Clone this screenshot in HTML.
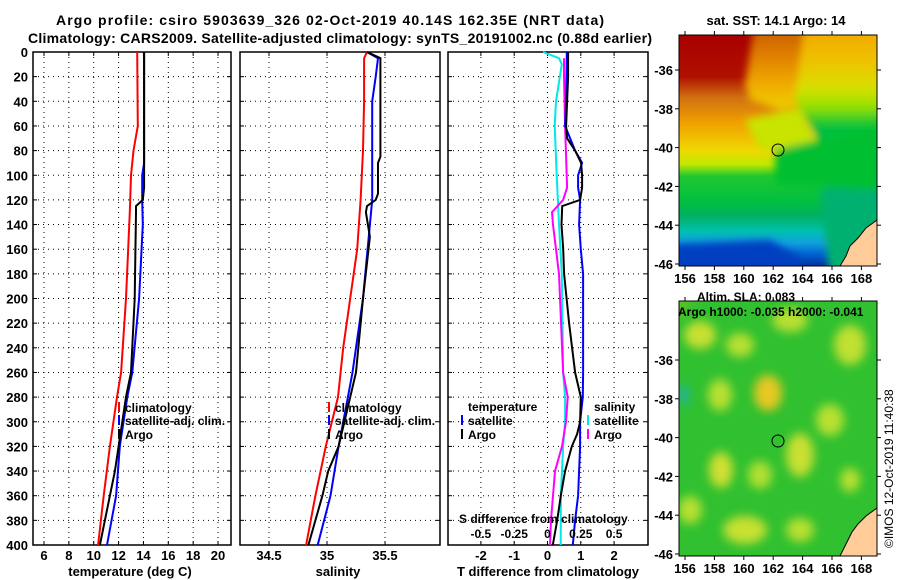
<!DOCTYPE html>
<html><head><meta charset="utf-8"><style>
html,body{margin:0;padding:0;background:#fff;}
svg{display:block;font-family:"Liberation Sans",sans-serif;font-weight:bold;}
</style></head><body>
<svg id="c" width="900" height="580" xmlns="http://www.w3.org/2000/svg">
<defs>
<linearGradient id="sstg" x1="0" y1="0" x2="0" y2="1">
<stop offset="0" stop-color="#a80000"/><stop offset="0.18" stop-color="#b01000"/>
<stop offset="0.27" stop-color="#d07010"/><stop offset="0.38" stop-color="#f0a000"/>
<stop offset="0.5" stop-color="#f0d800"/><stop offset="0.56" stop-color="#c0e800"/>
<stop offset="0.61" stop-color="#20c830"/><stop offset="0.72" stop-color="#00c040"/>
<stop offset="0.78" stop-color="#00b060"/><stop offset="0.85" stop-color="#00c0b0"/>
<stop offset="0.9" stop-color="#10a0e0"/><stop offset="0.95" stop-color="#0060d0"/>
<stop offset="1" stop-color="#0030a0"/>
</linearGradient>
<linearGradient id="sstr" x1="0" y1="0" x2="0" y2="1">
<stop offset="0" stop-color="#f0a000"/><stop offset="0.2" stop-color="#f0c000"/>
<stop offset="0.35" stop-color="#d8e000"/><stop offset="0.45" stop-color="#90e000"/>
<stop offset="0.55" stop-color="#00c040"/><stop offset="1" stop-color="#00b060"/>
</linearGradient>
<linearGradient id="sstm" x1="0" y1="0" x2="0" y2="1">
<stop offset="0" stop-color="#c05000"/><stop offset="0.4" stop-color="#e08000"/>
<stop offset="0.75" stop-color="#f0b000"/><stop offset="1" stop-color="#f0d000"/>
</linearGradient>
<radialGradient id="corner" cx="0" cy="0" r="1"><stop offset="0" stop-color="#f07000"/><stop offset="0.5" stop-color="#e0c000"/><stop offset="1" stop-color="#30c030" stop-opacity="0"/></radialGradient>
<filter id="bl" x="-0.5" y="-0.5" width="2" height="2"><feGaussianBlur stdDeviation="5"/></filter>
<filter id="bl2" x="-0.2" y="-0.2" width="1.4" height="1.4"><feGaussianBlur stdDeviation="4"/></filter>
<clipPath id="cm1"><rect x="679" y="35" width="198" height="231"/></clipPath>
<clipPath id="cm2"><rect x="679" y="301" width="198" height="255"/></clipPath>
</defs>
<text x="330" y="25" text-anchor="middle" font-size="14" textLength="548">Argo profile: csiro 5903639_326 02-Oct-2019 40.14S 162.35E (NRT data)</text>
<text x="340" y="43" text-anchor="middle" font-size="14" textLength="624">Climatology: CARS2009. Satellite-adjusted climatology: synTS_20191002.nc (0.88d earlier)</text>

<g id="p1"></g>
<g id="p2"></g>
<g id="p3"></g>

<g>
<text x="776" y="25" text-anchor="middle" font-size="13">sat. SST: 14.1 Argo: 14</text>
<g clip-path="url(#cm1)">
<rect x="679" y="35" width="198" height="231" fill="url(#sstg)"/>
<g filter="url(#bl2)">
<path d="M755,20 L810,20 L805,105 L780,110 L750,100 L745,85 Z" fill="url(#sstm)"/>
<path d="M805,20 L900,20 L900,215 L860,200 L830,160 L810,125 L795,100 Z" fill="url(#sstr)"/>
<path d="M820,190 L900,170 L900,280 L830,280 Z" fill="#00b070"/>
<path d="M745,120 L800,108 L815,140 L790,150 L760,150 Z" fill="#c8e400"/>
<path d="M775,150 L880,125 L880,190 L775,185 Z" fill="#00c030"/>
<path d="M660,245 L770,240 L800,258 L800,280 L660,280 Z" fill="#0040c0"/>
</g>
<path d="M877,220 L866,228 L858,238 L850,246 L846,256 L840,266 L877,266 Z" fill="#ffcc99" stroke="#000" stroke-width="1"/>
</g>
<rect x="679" y="35" width="198" height="231" fill="none" stroke="#000"/>
<circle cx="778" cy="150" r="6" fill="none" stroke="#000"/>
<g id="m1ticks"></g>
</g>

<g>
<g clip-path="url(#cm2)">
<rect x="679" y="301" width="198" height="255" fill="#30c030"/>
<g filter="url(#bl)">
<ellipse cx="768" cy="393" rx="14" ry="18" fill="#e8c820"/>
<ellipse cx="700" cy="335" rx="16" ry="14" fill="#c8e030"/>
<ellipse cx="740" cy="345" rx="14" ry="12" fill="#b8e030"/>
<ellipse cx="790" cy="320" rx="18" ry="12" fill="#b8e030"/>
<ellipse cx="850" cy="345" rx="16" ry="20" fill="#c0e030"/>
<ellipse cx="720" cy="395" rx="12" ry="16" fill="#b8e030"/>
<ellipse cx="800" cy="455" rx="14" ry="22" fill="#c8e030"/>
<ellipse cx="721" cy="470" rx="12" ry="18" fill="#d0e030"/>
<ellipse cx="760" cy="475" rx="12" ry="14" fill="#b0e030"/>
<ellipse cx="830" cy="420" rx="14" ry="16" fill="#b8e030"/>
<ellipse cx="745" cy="530" rx="22" ry="14" fill="#c8e030"/>
<ellipse cx="800" cy="530" rx="14" ry="12" fill="#b8e030"/>
<ellipse cx="690" cy="510" rx="12" ry="14" fill="#b8e030"/>
<ellipse cx="850" cy="480" rx="10" ry="12" fill="#b8e030"/>
<ellipse cx="683" cy="395" rx="6" ry="10" fill="#20b0a0"/>
</g>
<circle cx="679" cy="301" r="45" fill="url(#corner)"/>
<path d="M877,508 L866,516 L858,524 L852,532 L846,544 L840,556 L877,556 Z" fill="#ffcc99" stroke="#000" stroke-width="1"/>
</g>
<rect x="679" y="301" width="198" height="255" fill="none" stroke="#000"/>
<text x="697" y="301" font-size="12">Altim. SLA: 0.083</text>
<text x="678" y="316" font-size="12">Argo h1000: -0.035 h2000: -0.041</text>
<circle cx="778" cy="441" r="6" fill="none" stroke="#000"/>
<g id="m2ticks"></g>
</g>
<text transform="translate(893,548) rotate(-90)" font-size="12" font-weight="normal">©IMOS 12-Oct-2019 11:40:38</text>
</svg>
<script>
// ---- data (depth in m) ----
const tDepth   = [0,60,80,100,130,200,260,280,320,360,400];
const tClim    = [13.5,13.55,13.2,13.0,12.9,12.6,12.2,11.87,11.3,10.8,10.35];
const tSatDepth= [0,90,100,120,140,200,260,280,320,360,400];
const tSat     = [14.05,14.05,13.9,13.9,13.95,13.65,13.1,12.7,12.1,11.8,11.07];
const tArgoDepth=[0,110,120,125,130,200,260,280,320,340,360,400];
const tArgo    = [14.05,14.05,13.95,13.4,13.4,13.3,13.0,12.6,12.0,11.7,11.3,10.5];

const sDepth   = [0,5,40,80,120,160,200,240,280,320,360,400];
const sClim    = [35.345,35.32,35.32,35.31,35.29,35.26,35.2,35.14,35.095,34.99,34.9,34.82];
const sSatDepth= [0,5,20,40,120,140,200,260,280,320,360,400];
const sSat     = [35.345,35.44,35.42,35.39,35.39,35.37,35.31,35.22,35.18,35.1,35.03,34.92];
const sArgoDepth=[0,5,85,90,115,120,125,130,150,200,260,280,320,340,360,400];
const sArgo    = [35.345,35.46,35.46,35.44,35.44,35.42,35.345,35.335,35.37,35.31,35.25,35.2,35.1,35.01,34.96,34.84];

const dTSatDepth=[0,40,60,70,80,90,100,110,120,140,160,180,220,260,280,300,320,340,360,380,400];
const dTSat    = [0.58,0.56,0.53,0.68,0.83,1.04,0.92,0.92,0.98,0.95,1.0,1.07,1.07,1.07,1.06,0.98,0.98,0.95,0.92,0.83,0.76];
const dTArgoDepth=[0,20,60,70,80,90,100,110,120,125,140,160,180,220,260,280,300,310,320,340,360,380,400];
const dTArgo   = [0.62,0.62,0.56,0.59,0.83,1.01,1.04,1.04,0.98,0.44,0.42,0.47,0.5,0.65,0.83,1.0,0.98,0.89,0.73,0.53,0.40,0.29,0.16];
const dSSatDepth=[0,5,10,40,60,100,140,180,260,280,300,320,340,360,380,400];
const dSSat    = [-0.034,0.086,0.107,0.064,0.054,0.069,0.086,0.107,0.117,0.132,0.132,0.117,0.109,0.10,0.10,0.099];
const dSArgoDepth=[5,20,60,100,110,120,130,140,180,260,280,300,320,340,360,380,400];
const dSArgo   = [0.124,0.124,0.132,0.144,0.147,0.117,0.034,0.041,0.086,0.117,0.152,0.139,0.109,0.056,0.041,0.026,0.019];

const depthTicks=[0,20,40,60,80,100,120,140,160,180,200,220,240,260,280,300,320,340,360,380,400];
const tTicks=[6,8,10,12,14,16,18,20];
const sTicks=[34.5,35,35.5];
const dTTicks=[-2,-1,0,1,2];
const dSTicks=[-0.5,-0.25,0,0.25,0.5];
const dSTickLabels=["-0.5","-0.25","0","0.25","0.5"];
const lonTicks=[156,158,160,162,164,166,168];
const lat1Ticks=[-36,-38,-40,-42,-44,-46];
const lat2Ticks=[-36,-38,-40,-42,-44,-46];

const NS='http://www.w3.org/2000/svg';
const TOP=52,BOT=545;
const yD=d=>TOP+d*(BOT-TOP)/400;
const xT=t=>44+(t-6)*12.43;
const xS=s=>327+(s-35)*116;
const xDT=d=>547.5+d*33.3;
const xDS=s=>547.5+s*133.2;
function mk(tag,attrs,parent,txt){const e=document.createElementNS(NS,tag);for(const k in attrs)e.setAttribute(k,attrs[k]);if(txt!==undefined)e.textContent=txt;parent.appendChild(e);return e;}
function frame(g,x0,x1,vt,fx,labels,showY){
  depthTicks.forEach((d,i)=>{
    if(i>0&&i<depthTicks.length-1)mk('line',{x1:x0,x2:x1,y1:yD(d),y2:yD(d),stroke:'#000','stroke-dasharray':'1,4'},g);
    mk('line',{x1:x0,x2:x0+4,y1:yD(d),y2:yD(d),stroke:'#000'},g);
    mk('line',{x1:x1-4,x2:x1,y1:yD(d),y2:yD(d),stroke:'#000'},g);
    if(showY){const t=mk('text',{x:28,y:yD(d)+5,'text-anchor':'end','font-size':13},g,String(d));
      }
  });
  vt.forEach((v,i)=>{const x=fx(v);
    mk('line',{x1:x,x2:x,y1:TOP,y2:BOT,stroke:'#000','stroke-dasharray':'1,4'},g);
    mk('line',{x1:x,x2:x,y1:BOT-4,y2:BOT,stroke:'#000'},g);
    mk('line',{x1:x,x2:x,y1:TOP,y2:TOP+4,stroke:'#000'},g);
    if(labels){const t=mk('text',{x:x,y:560,'text-anchor':'middle','font-size':13},g,labels[i]);
      }
  });
  mk('rect',{x:x0,y:TOP,width:x1-x0,height:BOT-TOP,fill:'none',stroke:'#000','stroke-width':1.5},g);
}
function line(g,depths,vals,fx,color,name){
  const p=mk('polyline',{points:depths.map((d,i)=>fx(vals[i]).toFixed(1)+','+yD(d).toFixed(1)).join(' '),fill:'none',stroke:color,'stroke-width':2},g);
  
  
}
function leg(g,x,y,color,txt,name){
  mk('line',{x1:x,x2:x,y1:y-10,y2:y,stroke:color,'stroke-width':2},g);
  if(txt!==null){const t=mk('text',{x:x+6,y:y,'font-size':12},g,txt);
  }
}
// panel 1
const p1=document.getElementById('p1');
frame(p1,33,231,tTicks,xT,tTicks.map(String),true);
line(p1,tDepth,tClim,xT,'#ff0000','temp-climatology-line');
line(p1,tSatDepth,tSat,xT,'#0000ff','temp-satellite-line');
line(p1,tArgoDepth,tArgo,xT,'#000','temp-argo-line');
leg(p1,119,412,'#ff0000','climatology','legend-climatology');
leg(p1,119,425,'#0000ff','satellite-adj. clim.','legend-satellite');
leg(p1,119,439,'#000','Argo','legend-argo');
mk('text',{x:130,y:576,'text-anchor':'middle','font-size':13},p1,'temperature (deg C)');
// panel 2
const p2=document.getElementById('p2');
frame(p2,240,440,sTicks,xS,['34.5','35','35.5'],false);
line(p2,sDepth,sClim,xS,'#ff0000','sal-climatology-line');
line(p2,sSatDepth,sSat,xS,'#0000ff','sal-satellite-line');
line(p2,sArgoDepth,sArgo,xS,'#000','sal-argo-line');
leg(p2,329,412,'#ff0000','climatology','legend-climatology');
leg(p2,329,425,'#0000ff','satellite-adj. clim.','legend-satellite');
leg(p2,329,439,'#000','Argo','legend-argo');
mk('text',{x:338,y:576,'text-anchor':'middle','font-size':13},p2,'salinity');
// panel 3
const p3=document.getElementById('p3');
frame(p3,448,648,dTTicks,xDT,dTTicks.map(String),false);
line(p3,dSSatDepth,dSSat,xDS,'#00e8e8','sal-diff-satellite-line');
line(p3,dSArgoDepth,dSArgo,xDS,'#ff00ff','sal-diff-argo-line');
line(p3,dTSatDepth,dTSat,xDT,'#0000ff','temp-diff-satellite-line');
line(p3,dTArgoDepth,dTArgo,xDT,'#000','temp-diff-argo-line');
mk('text',{x:468,y:411,'font-size':12},p3,'temperature');
leg(p3,462,425,'#0000ff','satellite','legend-t-satellite');
leg(p3,462,439,'#000','Argo','legend-t-argo');
mk('text',{x:594,y:411,'font-size':12},p3,'salinity');
leg(p3,588,425,'#00e8e8','satellite','legend-s-satellite');
leg(p3,588,439,'#ff00ff','Argo','legend-s-argo');
mk('text',{x:459,y:523,'font-size':12},p3,'S difference from climatology');
dSTicks.forEach((v,i)=>{const t=mk('text',{x:xDS(v),y:538,'text-anchor':'middle','font-size':12},p3,dSTickLabels[i]);
  });
mk('text',{x:548,y:576,'text-anchor':'middle','font-size':13},p3,'T difference from climatology');
// map ticks
function mapTicks(id,y0,y1,latTicks,lat0y){
  const g=document.getElementById(id);
  lonTicks.forEach(l=>{const x=685+(l-156)*14.7;
    mk('line',{x1:x,x2:x,y1:y1,y2:y1+4,stroke:'#000'},g);
    mk('line',{x1:x,x2:x,y1:y0-4,y2:y0,stroke:'#000'},g);
    const t=mk('text',{x:x,y:y1+17,'text-anchor':'middle','font-size':13},g,String(l));
    });
  latTicks.forEach(l=>{const y=lat0y+(-36-l)*19.4;
    if(y<y0||y>y1+1)return;
    mk('line',{x1:675,x2:679,y1:y,y2:y,stroke:'#000'},g);
    mk('line',{x1:877,x2:881,y1:y,y2:y,stroke:'#000'},g);
    const t=mk('text',{x:673,y:y+5,'text-anchor':'end','font-size':13},g,String(l));
    });
}
mapTicks('m1ticks',35,266,lat1Ticks,70);
mapTicks('m2ticks',301,556,lat2Ticks,360);
</script>
</body></html>
